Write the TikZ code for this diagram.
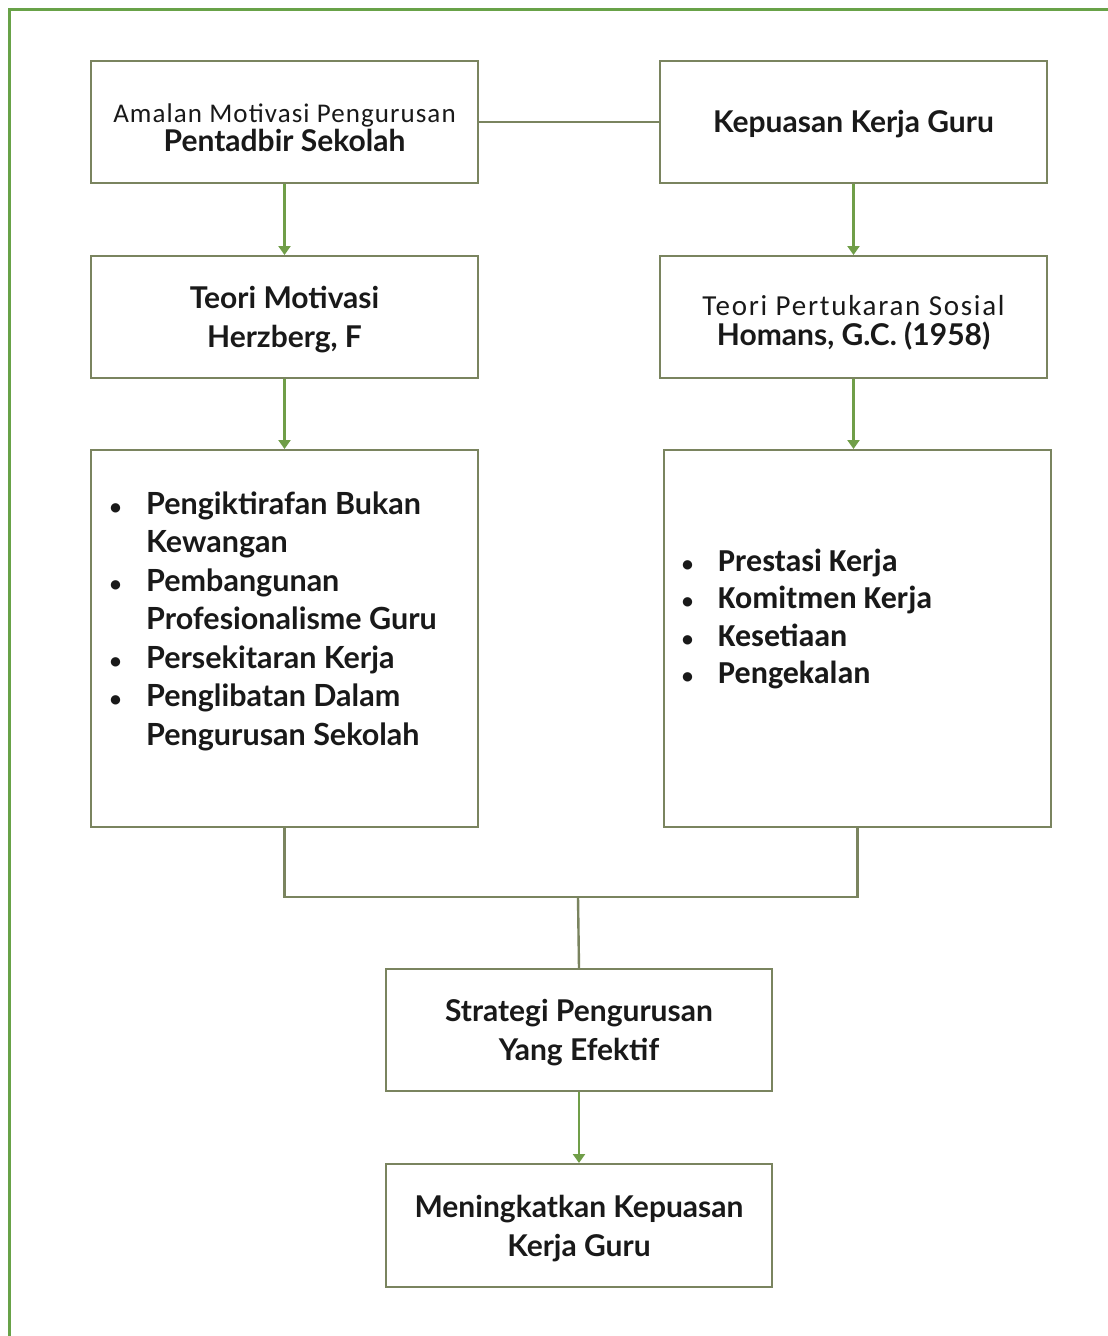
\documentclass[tikz,border=0pt]{standalone}
\usepackage{fontspec}
\setmainfont{Lato}
\newfontfamily\calib{Carlito}
\newfontfamily\calibsp[LetterSpace=4]{Carlito}
\newfontfamily\calibspp[LetterSpace=6]{Carlito}
\usetikzlibrary{arrows.meta}
\definecolor{boxc}{RGB}{122,132,95}
\definecolor{arrc}{RGB}{112,158,72}
\definecolor{framec}{RGB}{104,162,72}
\definecolor{txt}{RGB}{25,25,25}
\newcommand{\smbul}{{\calib\fontsize{22}{22}\selectfont\textbullet}}
\begin{document}
\begin{tikzpicture}[x=1pt,y=-1pt,
  box/.style={draw=boxc, line width=2pt, fill=white, anchor=north west, inner sep=0pt,
    minimum width=387pt, minimum height=122pt},
  btxt/.style={align=center, inner sep=0pt, text=txt},
  listtxt/.style={anchor=north west, align=left, inner sep=0pt, text=txt},
  conn/.style={draw=boxc, line width=2.4pt},
  arr/.style={draw=arrc, line width=2.4pt, -{Triangle[width=12pt,length=9pt]}}]
\useasboundingbox (0,0) rectangle (1108,1336);
\fill[white] (0,0) rectangle (1108,1336);
\draw[framec, line width=3pt] (9,1336) -- (9,9) -- (1108,9);

\node[box] (a) at (90,60) {};
\node[box] (b) at (659,60) {};
\node[box] (c) at (90,255) {};
\node[box] (d) at (659,255) {};
\node[box, minimum height=377pt] (e) at (90,449) {};
\node[box, minimum height=377pt] (f) at (663,449) {};
\node[box, minimum height=122pt, minimum width=386pt] (g) at (385,968) {};
\node[box, minimum height=123pt, minimum width=386pt] (h) at (385,1163) {};

\node[btxt, font=\fontsize{27}{30}\selectfont] (at) at ([yshift=-6pt]a.center)
  {{\calibsp Amalan Motivasi Pengurusan}\\[-1pt]{\fontsize{30}{30}\selectfont\bfseries Pentadbir Sekolah}};
\node[btxt, font=\fontsize{30}{30}\selectfont\bfseries] (bt) at ([yshift=-2pt]b.center) {Kepuasan Kerja Guru};
\node[btxt, font=\fontsize{30}{39}\selectfont\bfseries] (ct) at ([yshift=-3pt]c.center) {Teori Motivasi\\Herzberg, F};
\node[btxt, font=\fontsize{29}{30}\selectfont] (dt) at ([yshift=-6pt]d.center)
  {{\calibspp Teori Pertukaran Sosial}\\{\fontsize{30}{30}\selectfont\bfseries Homans, G.C. (1958)}};
\node[btxt, font=\fontsize{30}{39}\selectfont\bfseries] (gt) at ([yshift=-3pt]g.center) {Strategi Pengurusan\\Yang Efektif};
\node[btxt, font=\fontsize{30}{39}\selectfont\bfseries] (ht) at ([yshift=-3pt]h.center) {Meningkatkan Kepuasan\\Kerja Guru};

\node[listtxt] (el) at (110,487) {\fontsize{30.5}{38.5}\selectfont\bfseries
  \begin{tabular}{@{}p{36pt}@{}l@{}}
  \smbul & Pengiktirafan Bukan\\
   & Kewangan\\
  \smbul & Pembangunan\\
   & Profesionalisme Guru\\
  \smbul & Persekitaran Kerja\\
  \smbul & Penglibatan Dalam\\
   & Pengurusan Sekolah
  \end{tabular}};
\node[listtxt] (fl) at (682,545) {\fontsize{32}{37.5}\selectfont\calib\bfseries
  \begin{tabular}{@{}p{36pt}@{}l@{}}
  \smbul & Prestasi Kerja\\
  \smbul & Komitmen Kerja\\
  \smbul & Kesetiaan\\
  \smbul & Pengekalan
  \end{tabular}};

\coordinate (j) at (578,897);
\draw[conn] (a.east) -- (b.west);
\draw[arr] (a.south) -- (c.north);
\draw[arr] (b.south) -- (d.north);
\draw[arr] (c.south) -- (e.north);
\draw[arr] (d.south) -- (d.south |- f.north);
\draw[conn] (e.south) |- (j) -| (f.south);
\draw[conn] (j) -- (g.north);
\draw[arr] (g.south) -- (h.north);
\end{tikzpicture}
\end{document}
